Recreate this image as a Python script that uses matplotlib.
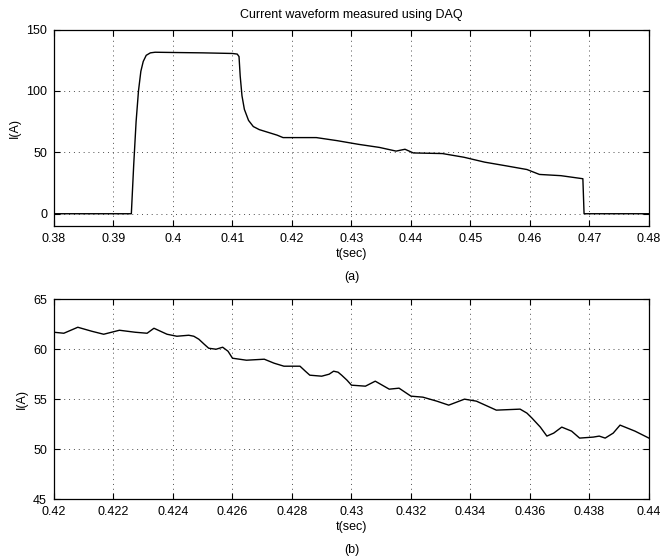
import matplotlib
matplotlib.use("Agg")
import matplotlib.pyplot as plt
from matplotlib.ticker import FuncFormatter, MultipleLocator

plt.rcParams['font.family'] = ['Liberation Sans', 'DejaVu Sans']
plt.rcParams['font.size'] = 9

# (a) full pulse
t_full = [0.380, 0.3930, 0.3934, 0.3938, 0.3942, 0.3946, 0.3950, 0.3955, 0.3962,
          0.3970, 0.4000, 0.4050, 0.4100, 0.4108, 0.4111, 0.4113, 0.4116, 0.4120,
          0.4127, 0.4135, 0.4145, 0.4155, 0.4165, 0.4175, 0.4185, 0.4200, 0.4241,
          0.4276, 0.4312, 0.4347, 0.4375, 0.4390, 0.4404, 0.4453, 0.4489, 0.4524,
          0.4560, 0.4595, 0.4616, 0.4652, 0.4689, 0.4691, 0.480]
i_full = [0.0, 0.0, 40.0, 75.0, 100.0, 116.0, 124.0, 129.0, 131.0,
          131.5, 131.3, 131.0, 130.5, 130.0, 128.0, 112.0, 96.0, 85.0,
          76.0, 71.0, 68.5, 67.0, 65.5, 64.0, 62.0, 62.0, 62.0,
          59.5, 56.5, 54.0, 51.0, 52.5, 49.5, 49.0, 46.0, 42.0,
          39.0, 36.0, 32.0, 31.0, 28.5, 0.0, 0.0]

# (b) zoom on 0.42 - 0.44 s
t_zoom = [0.42000, 0.42033, 0.42080, 0.42127, 0.42167, 0.42220, 0.42273, 0.42313,
          0.42336, 0.42380, 0.42413, 0.42453, 0.42470, 0.42487, 0.42505, 0.42520,
          0.42545, 0.42567, 0.42585, 0.42600, 0.42647, 0.42707, 0.42740, 0.42773,
          0.42827, 0.42845, 0.42860, 0.42900, 0.42925, 0.42940, 0.42955, 0.42967,
          0.42985, 0.43000, 0.43047, 0.43080, 0.43127, 0.43160, 0.43200, 0.43240,
          0.43287, 0.43327, 0.43380, 0.43420, 0.43487, 0.43567, 0.43590, 0.43607,
          0.43635, 0.43657, 0.43680, 0.43707, 0.43740, 0.43767, 0.43813, 0.43833,
          0.43853, 0.43880, 0.43903, 0.43953, 0.44000]
i_zoom = [61.7, 61.6, 62.2, 61.8, 61.5, 61.9, 61.7, 61.6,
          62.1, 61.5, 61.3, 61.4, 61.3, 61.0, 60.5, 60.1,
          60.0, 60.2, 59.8, 59.1, 58.9, 59.0, 58.6, 58.3,
          58.3, 57.8, 57.4, 57.3, 57.5, 57.8, 57.7, 57.4,
          56.9, 56.4, 56.3, 56.8, 56.0, 56.1, 55.3, 55.2,
          54.8, 54.4, 55.0, 54.8, 53.9, 54.0, 53.6, 53.1,
          52.2, 51.3, 51.6, 52.2, 51.8, 51.1, 51.2, 51.3,
          51.1, 51.6, 52.4, 51.8, 51.1]


def fmt(v, pos):
	return '%g' % round(v, 4)


def style_axes(ax):
	ax.tick_params(direction='in', top=True, right=True, length=4, width=0.8, pad=5, labelsize=9)
	ax.grid(True, linestyle=(0, (1, 4)), color='0.3', linewidth=0.7)
	for sp in ax.spines.values():
		sp.set_linewidth(0.9)
	ax.xaxis.set_major_formatter(FuncFormatter(fmt))


fig = plt.figure(figsize=(6.61, 5.56), dpi=100)

ax1 = fig.add_axes([0.0817, 0.5935, 0.900, 0.3534])
ax1.plot(t_full, i_full, color='black', linewidth=1.0)
ax1.set_xlim(0.38, 0.48)
ax1.set_ylim(-10, 150)
ax1.xaxis.set_major_locator(MultipleLocator(0.01))
ax1.set_yticks([0, 50, 100, 150])
style_axes(ax1)
ax1.set_title('Current waveform measured using DAQ', fontsize=9, pad=8)
ax1.set_ylabel('I(A)', fontsize=9, labelpad=4)
ax1.set_xlabel('t(sec)', fontsize=9, labelpad=2)

ax2 = fig.add_axes([0.0817, 0.1025, 0.900, 0.3592])
ax2.plot(t_zoom, i_zoom, color='black', linewidth=1.0)
ax2.set_xlim(0.42, 0.44)
ax2.set_ylim(45, 65)
ax2.xaxis.set_major_locator(MultipleLocator(0.002))
ax2.set_yticks([45, 50, 55, 60, 65])
style_axes(ax2)
ax2.set_ylabel('I(A)', fontsize=9, labelpad=4)
ax2.set_xlabel('t(sec)', fontsize=9, labelpad=2)

fig.text(0.5318, 1 - 277 / 556, '(a)', ha='center', va='center', fontsize=9)
fig.text(0.5318, 1 - 550 / 556, '(b)', ha='center', va='center', fontsize=9)

fig.savefig('out.png', dpi=100)
